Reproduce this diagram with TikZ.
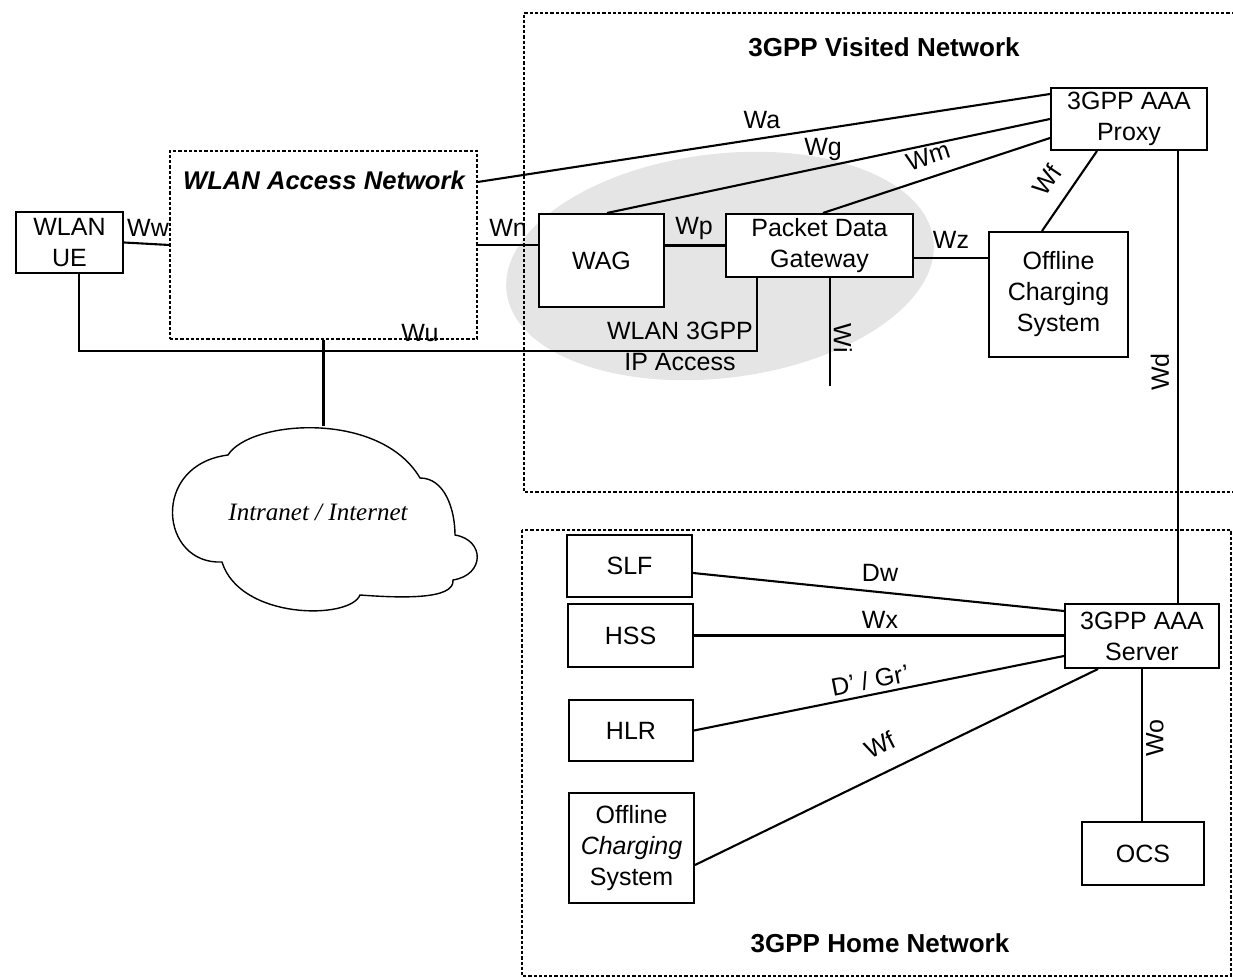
\documentclass[tikz,border=0pt]{standalone}
\usepackage{fontspec}
\setmainfont{Liberation Sans}
\newfontfamily\seriffont{Liberation Serif}
\usetikzlibrary{shapes.geometric,calc}
\begin{document}
\begin{tikzpicture}[x=0.5pt,y=-0.5pt,
  box/.style={draw,line width=1pt,fill=white,inner sep=0pt,align=center,
    font=\fontsize{12.5}{15.5}\selectfont},
  net/.style={draw,line width=0.6pt,dash pattern=on 1.6pt off 1pt},
  link/.style={line width=1.05pt},
  lab/.style={inner sep=0pt,font=\fontsize{12.5}{14}\selectfont},
  ttl/.style={inner sep=0pt,font=\bfseries\fontsize{13}{14}\selectfont}]
\useasboundingbox (0,0) rectangle (1233,978);
% shaded WLAN 3GPP IP access area
\node[ellipse,fill=gray!20,minimum width=215pt,minimum height=112pt,inner sep=0pt,rotate=7] (shade) at (720,266) {};
% networks
\draw[net] (1240,13) -- (524,13) -- (524,492) -- (1240,492);
\node[ttl] (tv) at (884,47) {3GPP Visited Network};
\draw[net] (522,530) rectangle (1231,976);
\node[ttl] (th) at (880,943) {3GPP Home Network};
% WLAN access network
\node[net,minimum width=153.5pt,minimum height=94pt,inner sep=0pt] (an) at (323.5,245) {};
\node[ttl,font=\bfseries\itshape\fontsize{12.8}{14}\selectfont] (tan) at (324,180) {WLAN Access Network};
% boxes
\node[box,minimum width=53.5pt,minimum height=30.5pt] (ue) at (69.5,242.5) {WLAN\\UE};
\node[box,minimum width=62.5pt,minimum height=46.5pt] (wag) at (601.5,260.5) {WAG};
\node[box,minimum width=93.5pt,minimum height=31.5pt] (pdg) at (819.5,245.5) {Packet Data\\Gateway};
\node[box,minimum width=69.5pt,minimum height=62.5pt] (ocsv) at (1058.5,294.5) {Offline\\Charging\\System};
\node[box,minimum width=78pt,minimum height=31pt] (proxy) at (1129,119) {3GPP AAA\\Proxy};
\node[box,minimum width=62.5pt,minimum height=31pt] (slf) at (629.5,566) {SLF};
\node[box,minimum width=62.5pt,minimum height=31.5pt] (hss) at (630.5,635.5) {HSS};
\node[box,minimum width=62pt,minimum height=30.5pt] (hlr) at (631,730.5) {HLR};
\node[box,minimum width=62.5pt,minimum height=55pt] (och) at (631.5,848) {Offline\\\textit{Charging}\\System};
\node[box,minimum width=77pt,minimum height=32pt] (aaa) at (1142,636) {3GPP AAA\\Server};
\node[box,minimum width=61pt,minimum height=31.5pt] (ocs) at (1143,853.5) {OCS};
% cloud
\coordinate (ct) at (322,426);
\draw[line width=0.7pt,fill=white] (228,455) .. controls (250,420) and (380,410) .. (420,478)
  .. controls (445,478) and (455,510) .. (455,535)
  .. controls (485,540) and (485,575) .. (453,580)
  .. controls (455,600) and (400,598) .. (360,595)
  .. controls (350,620) and (240,620) .. (222,562)
  .. controls (160,565) and (150,465) .. (228,455) -- cycle;
\node[inner sep=0pt,font=\seriffont\itshape\fontsize{12.5}{14}\selectfont] (cloud) at (318,512) {Intranet / Internet};
% connectors in the visited network and access
\coordinate (bus) at (0,351);
\coordinate (wiend) at (830,386);
\draw[link] (ue.east) -- (an.west);
\draw[link] ([xshift=4.75pt]ue.south) -- ([xshift=4.75pt]ue.south |- bus) -| ([xshift=-31.25pt]pdg.south);
\draw[link] (an.south) -- (an.south |- ct);
\draw[link] (an.east) -- (an.east -| wag.west);
\draw[link] (pdg.west -| wag.east) -- (pdg.west);
\draw[link] ([yshift=-6.25pt]pdg.east) -- ([yshift=-6.25pt]pdg.east -| ocsv.west);
\draw[link] ([yshift=31.5pt]an.east) -- ([yshift=12.5pt]proxy.west);
\draw[link] ([xshift=2.75pt]wag.north) -- (proxy.west);
\draw[link] ([xshift=1.75pt]pdg.north) -- ([yshift=-9.5pt]proxy.west);
\draw[link] ([xshift=-16pt]proxy.south) -- ([xshift=-8.25pt]ocsv.north);
\draw[link] ([xshift=5.25pt]pdg.south) -- (wiend);
\draw[link] ([xshift=24.5pt]proxy.south) -- ([xshift=24.5pt]proxy.south |- aaa.north);
% connectors in the home network
\draw[link] ([yshift=-3.5pt]slf.east) -- ([yshift=12.5pt]aaa.west);
\draw[link] (hss.east) -- (hss.east -| aaa.west);
\draw[link] (hlr.east) -- ([yshift=-10pt]aaa.west);
\draw[link] ([yshift=-8.5pt]och.east) -- ([xshift=-22pt]aaa.south);
\draw[link] (aaa.south) -- (aaa.south |- ocs.north);
% labels
\node[lab] (lww) at (148,228) {Ww};
\node[lab] (lwn) at (508,228) {Wn};
\node[lab] (lwp) at (694,228) {Wp};
\node[lab] (lwu) at (420,333) {Wu};
\node[lab] (lwa) at (762,120) {Wa};
\node[lab] (lwg) at (823,149) {Wg};
\node[lab,rotate=18] (lwm) at (928,156) {Wm};
\node[lab,rotate=56] (lwfv) at (1047,180) {Wf};
\node[lab] (lwz) at (951,240) {Wz};
\node[lab,rotate=-90] (lwi) at (843,338) {Wi};
\node[lab,rotate=90] (lwd) at (1160,372) {Wd};
\node[lab,align=center,font=\fontsize{12.5}{15.5}\selectfont] (lip) at (680,346) {WLAN 3GPP\\IP Access};
\node[lab] (ldw) at (880,573) {Dw};
\node[lab] (lwx) at (880,620) {Wx};
\node[lab,rotate=11] (ldg) at (870,680) {D' / Gr'};
\node[lab,rotate=27] (lwfh) at (880,745) {Wf};
\node[lab,rotate=90] (lwo) at (1155,738) {Wo};
\end{tikzpicture}
\end{document}
